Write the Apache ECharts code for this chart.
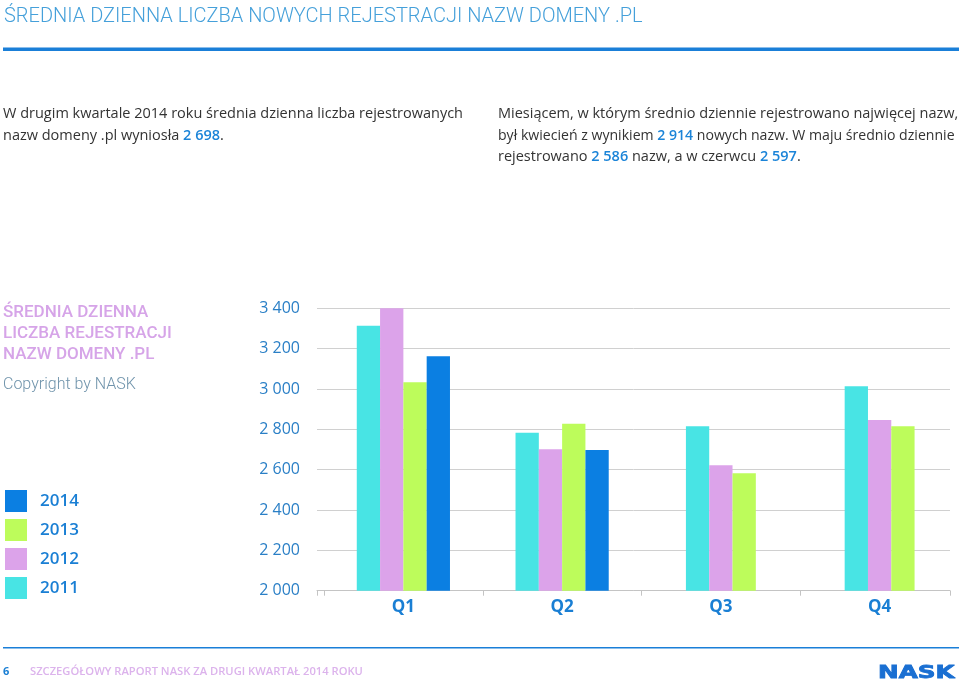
<!DOCTYPE html>
<html>
<head>
<meta charset="utf-8">
<script src="https://cdn.jsdelivr.net/npm/echarts@6/dist/echarts.min.js"></script>
<style>
html,body{margin:0;padding:0;background:#fff;}
#chart{width:959px;height:684px;}
</style>
</head>
<body>
<div id="chart"></div>
<script>
// ---- data ----
const categories = ['Q1', 'Q2', 'Q3', 'Q4'];
const v2011 = [3314, 2783, 2815, 3014];
const v2012 = [3400, 2701, 2622, 2846];
const v2013 = [3033, 2828, 2582, 2815];
const v2014 = [3162, 2698, null, null];
const legendYears = ['2014', '2013', '2012', '2011'];
const yMin = 2000, yMax = 3400, yStep = 200;

// ---- styles ----
const COL = { '2011': '#48e4e4', '2012': '#dca3ea', '2013': '#bdfc5b', '2014': '#0b7fe2' };
const BLUE = '#1a7fd4';
const PINK = '#d6a4e8';

// quarters where all four years exist are drawn as 4-bar groups,
// quarters with three years as centred 3-bar groups (as in the original)
const full = v2014.map(v => v != null);
const pick = (arr, wantFull) => arr.map((v, i) => (full[i] === wantFull ? v : null));

const seriesDefs = [['2011', v2011], ['2012', v2012], ['2013', v2013], ['2014', v2014]];
const series = [];
seriesDefs.forEach(([name, arr]) => {
  series.push({
    name, type: 'bar', xAxisIndex: 1, yAxisIndex: 1,
    data: pick(arr, true), barWidth: 23.3, barGap: '0%',
    itemStyle: { color: COL[name] }, silent: true
  });
});
seriesDefs.slice(0, 3).forEach(([name, arr]) => {
  series.push({
    name, type: 'bar', xAxisIndex: 2, yAxisIndex: 1,
    data: pick(arr, false), barWidth: 23.3, barGap: '0%',
    itemStyle: { color: COL[name] }, silent: true
  });
});

const fmt = v => String(v).replace(/\B(?=(\d{3})+(?!\d))/g, ' ');
function mkRich(fs) {
  return {
    n: { fontSize: fs, fontFamily: 'Open Sans', fill: '#333', color: '#333' },
    b: { fontSize: fs, fontFamily: 'Open Sans', fill: '#1b84d8', color: '#1b84d8', fontWeight: 600 }
  };
}
function line(x, y, txt, fs) {
  return { type: 'text', silent: true, style: { x, y, text: txt, rich: mkRich(fs), verticalAlign: 'middle', align: 'left' } };
}

const chart = echarts.init(document.getElementById('chart'));
chart.setOption({
  animation: false,
  backgroundColor: '#fff',
  grid: [
    { left: 317, right: 9, top: 308.3, bottom: 93.3 },
    { left: 324, right: -6, top: 308.3, bottom: 93.3 }
  ],
  xAxis: [
    { gridIndex: 0, type: 'category', data: categories,
      axisLine: { lineStyle: { color: '#c4c4c4', width: 1 } },
      axisTick: { show: true, length: 5, interval: (i) => i === 0, lineStyle: { color: '#c4c4c4' } },
      axisLabel: { show: false } },
    { gridIndex: 1, type: 'category', data: categories,
      axisLine: { show: false },
      axisTick: { show: true, length: 5, lineStyle: { color: '#c4c4c4' } },
      axisLabel: { color: BLUE, fontSize: 17, fontWeight: 'bold', fontFamily: 'Open Sans', margin: 8 } },
    { gridIndex: 1, type: 'category', data: categories, show: false }
  ],
  yAxis: [
    { gridIndex: 0, type: 'value', min: yMin, max: yMax, interval: yStep,
      axisLine: { show: false }, axisTick: { show: false },
      axisLabel: { color: '#2a7fc6', fontSize: 16, fontFamily: 'Open Sans', margin: 17, formatter: fmt },
      splitLine: { lineStyle: { color: '#d0d0d0', width: 1 } } },
    { gridIndex: 1, type: 'value', min: yMin, max: yMax, interval: yStep, show: false,
      splitLine: { show: false } }
  ],
  legend: {
    data: legendYears, orient: 'vertical', left: 0, top: 485,
    itemWidth: 22, itemHeight: 22, itemGap: 7, icon: 'rect', selectedMode: false,
    textStyle: { color: BLUE, fontSize: 17, fontWeight: 600, fontFamily: 'Open Sans', padding: [0, 0, 0, 8] }
  },
  series,
  graphic: [
    { type: 'text', silent: true, style: { x: 4, y: 17, text: 'ŚREDNIA DZIENNA LICZBA NOWYCH REJESTRACJI NAZW DOMENY .PL',
      fontSize: 20, fontWeight: 300, fontFamily: 'Roboto', fill: '#45a0da', verticalAlign: 'middle' } },
    { type: 'rect', silent: true, shape: { x: 3, y: 47.5, width: 956, height: 3.5 }, style: { fill: '#1a7fd8' } },

    line(3, 114, '{n|W drugim kwartale 2014 roku średnia dzienna liczba rejestrowanych}', 14.5),
    line(3, 136, '{n|nazw domeny .pl wyniosła }{b|2 698}{n|.}', 14.5),
    line(498, 114, '{n|Miesiącem, w którym średnio dziennie rejestrowano najwięcej nazw,}', 14.5),
    line(498, 136, '{n|był kwiecień z wynikiem }{b|2 914}{n| nowych nazw. W maju średnio dziennie}', 14.1),
    line(498, 157, '{n|rejestrowano }{b|2 586}{n| nazw, a w czerwcu }{b|2 597}{n|.}', 14.5),

    { type: 'text', silent: true, style: { x: 3, y: 313, text: 'ŚREDNIA DZIENNA', fontSize: 17, fontWeight: 500, fontFamily: 'Roboto', fill: PINK, verticalAlign: 'middle' } },
    { type: 'text', silent: true, style: { x: 3, y: 334, text: 'LICZBA REJESTRACJI', fontSize: 17, fontWeight: 500, fontFamily: 'Roboto', fill: PINK, verticalAlign: 'middle' } },
    { type: 'text', silent: true, style: { x: 3, y: 355, text: 'NAZW DOMENY .PL', fontSize: 17, fontWeight: 500, fontFamily: 'Roboto', fill: PINK, verticalAlign: 'middle' } },
    { type: 'text', silent: true, style: { x: 3, y: 385, text: 'Copyright by NASK', fontSize: 16, fontWeight: 300, fontFamily: 'Roboto', fill: '#6f93ab', verticalAlign: 'middle' } },

    { type: 'rect', silent: true, shape: { x: 3, y: 647, width: 956, height: 1.6 }, style: { fill: '#1a7fd8' } },
    { type: 'text', silent: true, style: { x: 3, y: 672, text: '6', fontSize: 11, fontWeight: 'bold', fontFamily: 'Open Sans', fill: BLUE, verticalAlign: 'middle' } },
    { type: 'text', silent: true, style: { x: 30, y: 672, text: 'SZCZEGÓŁOWY RAPORT NASK ZA DRUGI KWARTAŁ 2014 ROKU', fontSize: 11.2, fontWeight: 600, fontFamily: 'Open Sans', fill: '#dcb3ec', verticalAlign: 'middle' } },
    { type: 'text', silent: true, x: 878, y: 674, scaleX: 1.45, style: { x: 0, y: 0, text: 'NASK', fontSize: 17, fontWeight: 900, fontFamily: 'DejaVu Sans', fill: '#1a6fd2', stroke: '#1a6fd2', lineWidth: 0.8, verticalAlign: 'middle' } }
  ]
});
</script>
</body>
</html>
